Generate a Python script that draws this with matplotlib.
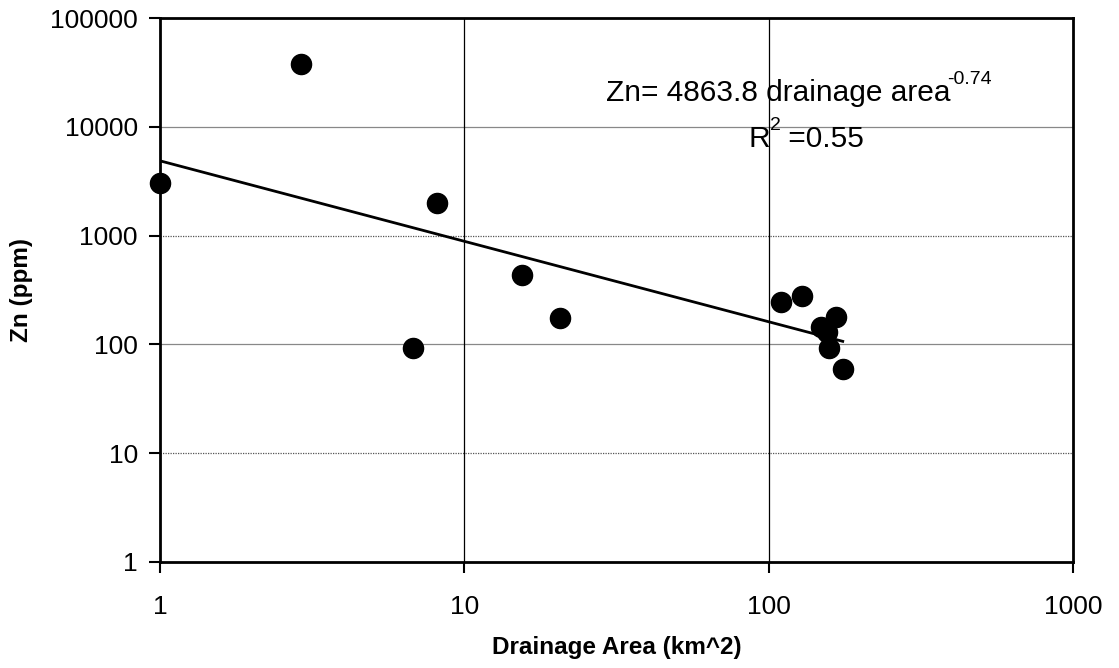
import matplotlib.pyplot as plt
import numpy as np

plt.rcParams['font.family'] = ['Liberation Sans', 'DejaVu Sans']

# drainage area (km^2) and Zn (ppm)
area = [1.0, 2.9, 8.15, 6.8, 15.5, 20.6, 110, 129, 149, 155, 166, 158, 175]
zn = [3040, 37800, 1995, 93, 434, 175, 245, 279, 144, 130, 179, 93, 59]

# power-law fit shown on the chart
coef = 4863.8
expo = -0.74
fit_x = np.array([1.0, 175.0])
fit_y = coef * fit_x ** expo

fig = plt.figure(figsize=(11.19, 6.68), dpi=100)
ax = fig.add_axes([0.143, 0.159, 0.816, 0.814])

ax.set_xscale('log')
ax.set_yscale('log')
ax.set_xlim(1, 1000)
ax.set_ylim(1, 100000)

# grid: horizontal gray, vertical black at 10 and 100
for yv in [10, 1000]:
    ax.axhline(yv, color='#555555', lw=0.9, ls=(0, (1, 1)), zorder=1)
for yv in [100, 10000]:
    ax.axhline(yv, color='#888888', lw=0.9, zorder=1)
for xv in [10, 100]:
    ax.axvline(xv, color='black', lw=0.9, zorder=1)

ax.plot(fit_x, fit_y, color='black', lw=2, zorder=2)
ax.scatter(area, zn, s=210, color='black', zorder=3, clip_on=False)

ax.set_xticks([1, 10, 100, 1000])
ax.set_xticklabels(['1', '10', '100', '1000'])
ax.set_yticks([1, 10, 100, 1000, 10000, 100000])
ax.set_yticklabels(['1', '10', '100', '1000', '10000', '100000'])
ax.minorticks_off()
ax.tick_params(labelsize=19, length=8, width=1.5, direction='out')
ax.tick_params(axis='x', pad=16)
ax.tick_params(axis='y', pad=8)

for s in ax.spines.values():
    s.set_linewidth(2)

ax.set_xlabel('Drainage Area (km^2)', fontsize=17.5, fontweight='bold', labelpad=12)
ax.set_ylabel('Zn (ppm)', fontsize=17.5, fontweight='bold', labelpad=12)

t1 = ax.text(0.488, 0.862, 'Zn= 4863.8 drainage area', transform=ax.transAxes,
             fontsize=21.5, va='center', ha='left')
ax.annotate('-0.74', xy=(0.99, 0.68), xycoords=t1, fontsize=14, va='bottom', ha='left')
t2 = ax.text(0.644, 0.777, 'R', transform=ax.transAxes,
             fontsize=21.5, va='center', ha='left')
ax.annotate('2', xy=(1.0, 0.68), xycoords=t2, fontsize=14, va='bottom', ha='left')
ax.annotate(' =0.55', xy=(1.5, 0), xycoords=t2, fontsize=21.5, va='bottom', ha='left')

fig.savefig('out.png', dpi=100)
